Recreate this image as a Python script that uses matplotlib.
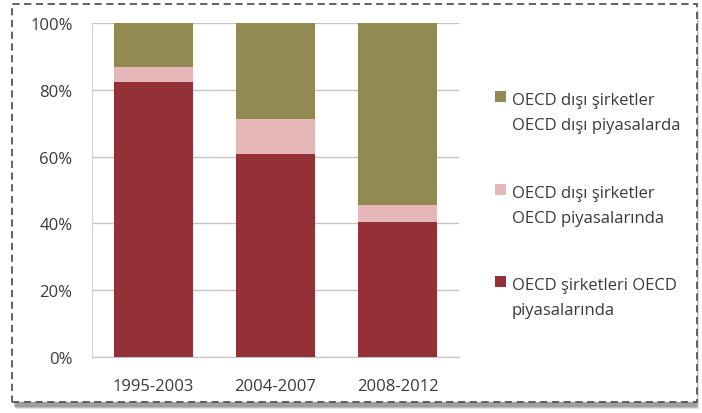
import matplotlib
matplotlib.use("Agg")
import matplotlib.pyplot as plt
from matplotlib.patches import Rectangle
import numpy as np

plt.rcParams['font.family'] = ['Open Sans', 'DejaVu Sans']

periods = ['1995-2003', '2004-2007', '2008-2012']
oecd_in_oecd = [82.2, 60.8, 40.3]
non_oecd_in_oecd = [4.5, 10.5, 5.2]
non_oecd_outside = [13.3, 28.7, 54.5]

labels = ['OECD şirketleri OECD\npiyasalarında',
          'OECD dışı şirketler\nOECD piyasalarında',
          'OECD dışı şirketler\nOECD dışı piyasalarda']
colors = ['#943136', '#E6B7B8', '#938953']
text_color = '#3a3a3a'

W, H = 702, 414
fig = plt.figure(figsize=(W / 100, H / 100), dpi=100)

# dashed frame with a soft shadow underneath
for i, a in enumerate([0.25, 0.35, 0.5]):
    fig.patches.append(Rectangle(((16 - i) / W, (4 + i) / H), 683 / W, 398 / H,
                                 transform=fig.transFigure, facecolor='#808080',
                                 edgecolor='none', alpha=a, zorder=0))
fig.patches.append(Rectangle((12 / W, 1 - 403 / H), 685 / W, 398 / H, transform=fig.transFigure,
                             facecolor='white', edgecolor='#555555', ls=(0, (4, 2.5)),
                             lw=1.3, zorder=1))

ax = fig.add_axes([92 / W, 1 - 358 / H, 367 / W, 334 / H])
ax.set_zorder(2)
ax.patch.set_alpha(0)

x = np.arange(len(periods))
w = 0.645
ax.bar(x, oecd_in_oecd, w, color=colors[0], zorder=3)
ax.bar(x, non_oecd_in_oecd, w, bottom=oecd_in_oecd, color=colors[1], zorder=3)
bottom3 = np.array(oecd_in_oecd) + np.array(non_oecd_in_oecd)
ax.bar(x, non_oecd_outside, w, bottom=bottom3, color=colors[2], zorder=3)

ax.set_xlim(-0.5, 2.5)
ax.set_ylim(0, 100)
ax.set_yticks(range(0, 101, 20))
ax.set_yticklabels([f'{v}%' for v in range(0, 101, 20)], fontsize=12, color=text_color)
ax.set_xticks(x)
ax.set_xticklabels(periods, fontsize=12, color=text_color)
ax.tick_params(axis='x', length=0, pad=15)
ax.tick_params(axis='y', length=0, pad=14)
ax.grid(axis='y', color='#c4c4c4', lw=1, zorder=0)
for s in ['top', 'right']:
    ax.spines[s].set_visible(False)
ax.spines['left'].set_color('#d4d4d4')
ax.spines['bottom'].set_color('#c4c4c4')

# legend, top entry first, square aligned with the first line
baselines = [105, 198, 290]
line_gap = 25
for lab, col, yb in zip(labels[::-1], colors[::-1], baselines):
    fig.patches.append(Rectangle((495 / W, 1 - 103 / H - (yb - 105) / H), 11 / W, 11 / H,
                                 transform=fig.transFigure, facecolor=col,
                                 edgecolor='none', zorder=3))
    for k, line in enumerate(lab.split('\n')):
        fig.text(512 / W, 1 - (yb + k * line_gap) / H, line, fontsize=12,
                 color=text_color, va='baseline', ha='left', zorder=3)

fig.savefig('out.png', dpi=100)
